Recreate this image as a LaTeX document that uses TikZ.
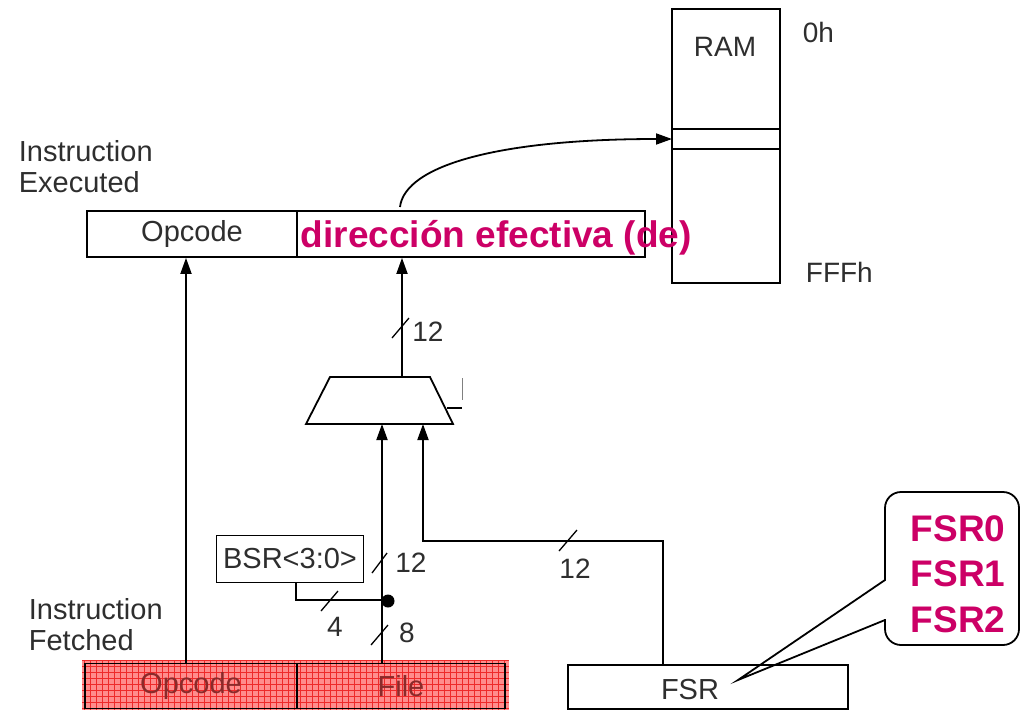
\documentclass[tikz,border=0pt]{standalone}
\usepackage{fontspec}
\setmainfont{Liberation Sans}
\usetikzlibrary{arrows.meta}
\definecolor{fsrpink}{HTML}{CC0066}
\definecolor{txtgray}{HTML}{2E2E2E}
\definecolor{fetchred}{HTML}{FF8C8C}
\definecolor{gridred}{HTML}{EE2A2A}
\definecolor{fetchtxt}{HTML}{8A2A2A}
\tikzset{
  every picture/.style={x=1pt, y=-1pt, line width=1.8pt, line join=miter, >={Triangle[length=16pt,width=11pt]}},
  reg/.style={draw, minimum height=46, inner sep=0pt, font=\fontsize{29}{31}\selectfont, text=txtgray},
  lbl/.style={font=\fontsize{28}{31}\selectfont, text=txtgray, inner sep=0pt},
  hot/.style={font=\bfseries\fontsize{37}{45.5}\selectfont, text=fsrpink, inner sep=0pt},
  slash/.style={line width=1.3pt},
}

\begin{document}
\begin{tikzpicture}
\useasboundingbox (0,0) rectangle (1021,710);
% memory
\node[draw, minimum width=108, minimum height=274, inner sep=0pt] (ram) at (726,146) {};
\draw (672,129) -- (780,129) (672,149) -- (780,149);
\coordinate (slot) at (672,139);
\node[lbl] (ramtxt) at (725,47) {RAM};
\node[lbl, anchor=west] (first) at (802,32) {0h};
\node[lbl, anchor=west] (last) at (805,272) {FFFh};
% executed instruction
\node[lbl, align=left, anchor=north west, font=\fontsize{29}{31}\selectfont] (exe) at (18,140) {Instruction\\Executed};
\node[reg, minimum width=210] (topc) at (192,234) {Opcode};
\node[reg, minimum width=348] (de) at (471,234) {};
\node[hot, anchor=west] (detxt) at (300,238) {dirección efectiva (de)};
% fetched instruction
\node[lbl, align=left, anchor=north west, font=\fontsize{29}{31}\selectfont] (fet) at (28,598) {Instruction\\Fetched};
\fill[fetchred] (82,660) rectangle (509,710);
\draw[gridred, line width=0.6pt, step=6pt] (82,660) grid (509,710);
\node[reg, minimum width=212, minimum height=45, text=fetchtxt] (bopc) at (191,686) {Opcode};
\node[reg, minimum width=208, minimum height=45, text=fetchtxt] (bfile) at (401,686) {File};
\node[reg, minimum width=280, minimum height=44] (fsr) at (708,687) {};
\node[lbl, font=\fontsize{29}{31}\selectfont] (fsrtxt) at (690,690) {FSR};
\node[reg, minimum width=147, minimum height=47] (bsr) at (290,559) {BSR<3:0>};
% mux
\draw (306,424) -- (330,377) -- (430,377) -- (453,424) -- cycle;
\draw (447,408) -- (462,408);
\draw[line width=1pt, gray] (462,378) -- (462,400);
\coordinate (muxout) at (402,377);
\coordinate (in1) at (382,424);
\coordinate (in2) at (423,424);
\coordinate (opx) at (186,0);
\coordinate (bend) at (663,541);
\coordinate (drop) at (296,600);
\coordinate (arcstart) at (400,207);
\node[circle, fill, inner sep=0pt, minimum size=13] (jn) at (388,601) {};
% connections
\draw[->] (bopc.north -| opx) -- (topc.south -| opx);
\draw[->] (muxout) -- (muxout |- de.south);
\draw[->] (bfile.north -| in1) -- (in1);
\draw[->] (fsr.north -| bend) -- (bend) -- (bend -| in2) -- (in2);
\draw (bsr.south -| drop) -- (drop) -- (drop -| in1);
\draw[->] (arcstart) .. controls (405,165) and (500,139) .. (slot);
% bus widths
\draw[slash] (392,338) -- (409,318);
\node[lbl] (w1) at (428,332) {12};
\draw[slash] (372,573) -- (387,553);
\node[lbl] (w2) at (411,563) {12};
\draw[slash] (321,611) -- (338,591);
\node[lbl] (w3) at (335,627) {4};
\draw[slash] (371,645) -- (388,625);
\node[lbl] (w4) at (407,633) {8};
\draw[slash] (559,551) -- (577,530);
\node[lbl] (w5) at (575,569) {12};
% callout
\draw (885,620) -- (738,680) -- (885,580) [rounded corners=16pt] -- (885,492) -- (1019,492) -- (1019,645) -- (885,645) -- (885,619);
\node[hot, align=left] (fsrlist) at (958,574) {FSR0\\FSR1\\FSR2};
\end{tikzpicture}
\end{document}
